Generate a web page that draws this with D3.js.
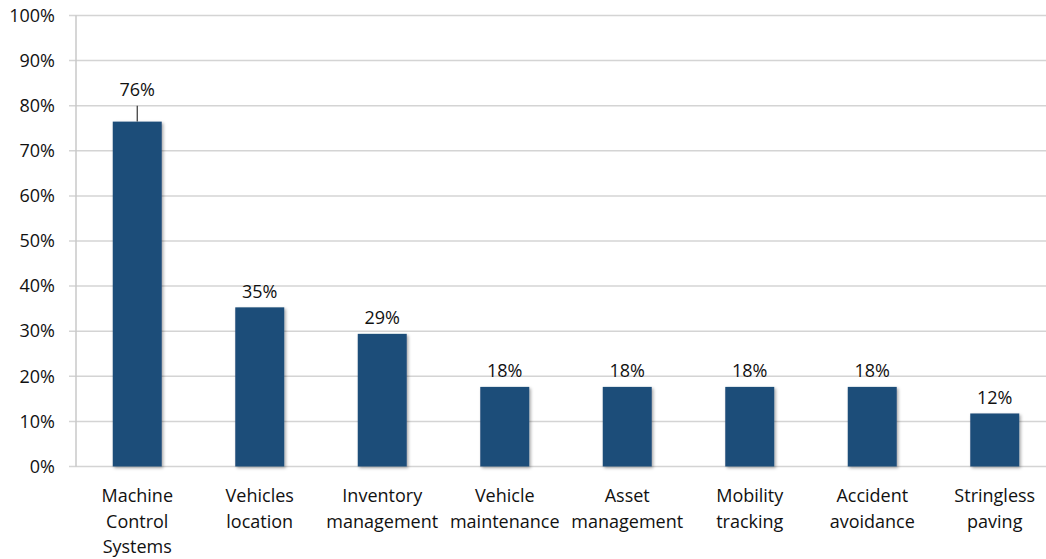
<!DOCTYPE html>
<html>
<head>
<meta charset="utf-8">
<script src="https://cdn.jsdelivr.net/npm/d3@7"></script>
<style>
  html, body { margin: 0; padding: 0; background: #fff; }
  svg { display: block; font-family: "Open Sans", "Liberation Sans", sans-serif; }
</style>
</head>
<body>
<svg id="chart" width="1046" height="559"></svg>
<script>
// Share of respondents using each application (17 respondents)
const categories = [
  ["Machine", "Control", "Systems"],
  ["Vehicles", "location"],
  ["Inventory", "management"],
  ["Vehicle", "maintenance"],
  ["Asset", "management"],
  ["Mobility", "tracking"],
  ["Accident", "avoidance"],
  ["Stringless", "paving"]
];
const values = [76.47, 35.29, 29.41, 17.65, 17.65, 17.65, 17.65, 11.76];
const errorUpper = [3.53, 0, 0, 0, 0, 0, 0, 0];
const yTicks = [0, 10, 20, 30, 40, 50, 60, 70, 80, 90, 100];

const svg = d3.select("#chart");
const W = 1046, H = 559;
const plotLeft = 76, plotRight = 1056, plotTop = 15.5, plotBottom = 466.5;
const fontSize = 18;
const textColor = "#111";

const x = d3.scaleBand()
  .domain(d3.range(values.length))
  .range([plotLeft, plotRight])
  .paddingInner(0.6)
  .paddingOuter(0.3);

const y = d3.scaleLinear().domain([0, 100]).range([plotBottom, plotTop]);

// soft shadow under the bars
const defs = svg.append("defs");
const f = defs.append("filter").attr("id", "shadow")
  .attr("x", "-20%").attr("y", "-5%").attr("width", "140%").attr("height", "115%");
f.append("feDropShadow").attr("dx", 1.5).attr("dy", 1.5)
  .attr("stdDeviation", 1.5).attr("flood-color", "#000").attr("flood-opacity", 0.35);

// horizontal gridlines
svg.append("g")
  .selectAll("line")
  .data(yTicks)
  .join("line")
  .attr("x1", plotLeft - 7).attr("x2", W)
  .attr("y1", d => y(d)).attr("y2", d => y(d))
  .attr("stroke", "#d4d4d4").attr("stroke-width", 1.5);

// y axis line
svg.append("line")
  .attr("x1", plotLeft).attr("x2", plotLeft)
  .attr("y1", plotTop).attr("y2", plotBottom)
  .attr("stroke", "#c8c8c8").attr("stroke-width", 1.5);

// y axis labels
const yAxis = d3.axisLeft(y).tickValues(yTicks).tickFormat(d => d + "%").tickSize(0).tickPadding(21);
const gy = svg.append("g").attr("transform", `translate(${plotLeft},0)`).call(yAxis);
gy.select(".domain").remove();
gy.selectAll("text")
  .attr("font-size", fontSize).attr("fill", textColor)
  .attr("font-family", "\"Open Sans\", sans-serif");

// bars
svg.append("g")
  .selectAll("rect")
  .data(values)
  .join("rect")
  .attr("x", (d, i) => x(i))
  .attr("width", x.bandwidth())
  .attr("y", d => y(d))
  .attr("height", d => y(0) - y(d))
  .attr("fill", "#1F4E79")
  .attr("filter", "url(#shadow)");

// error bars (upper whisker only)
svg.append("g")
  .selectAll("line")
  .data(values.map((v, i) => ({ v, e: errorUpper[i], i })).filter(d => d.e > 0))
  .join("line")
  .attr("x1", d => x(d.i) + x.bandwidth() / 2)
  .attr("x2", d => x(d.i) + x.bandwidth() / 2)
  .attr("y1", d => y(d.v))
  .attr("y2", d => y(d.v + d.e))
  .attr("stroke", "#333").attr("stroke-width", 1.2);

// value labels
svg.append("g")
  .selectAll("text")
  .data(values)
  .join("text")
  .attr("x", (d, i) => x(i) + x.bandwidth() / 2)
  .attr("y", (d, i) => y(d + errorUpper[i]) - 9.5)
  .attr("text-anchor", "middle")
  .attr("font-size", fontSize).attr("fill", textColor)
  .text(d => Math.round(d) + "%");

// category labels
const cg = svg.append("g")
  .selectAll("text")
  .data(categories)
  .join("text")
  .attr("x", (d, i) => x(i) + x.bandwidth() / 2)
  .attr("y", 502)
  .attr("text-anchor", "middle")
  .attr("font-size", fontSize).attr("fill", textColor);
cg.selectAll("tspan")
  .data(d => d)
  .join("tspan")
  .attr("x", function () { return d3.select(this.parentNode).attr("x"); })
  .attr("dy", (d, j) => j === 0 ? 0 : 25.5)
  .text(d => d);
</script>
</body>
</html>
